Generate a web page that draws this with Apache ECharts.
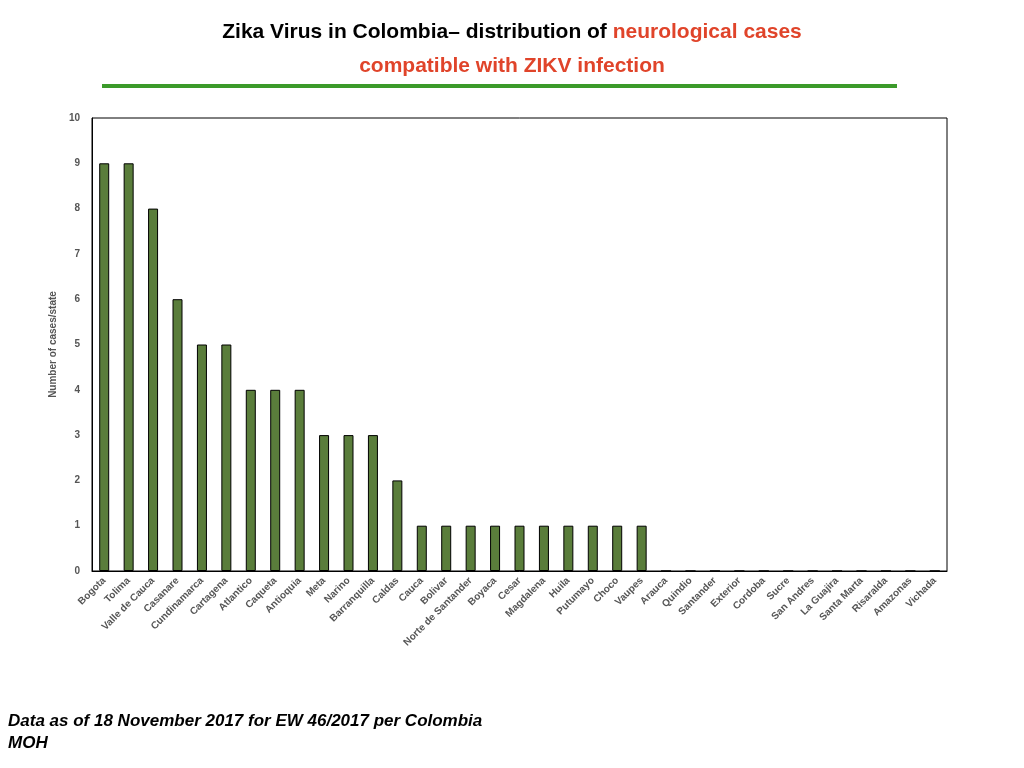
<!DOCTYPE html>
<html>
<head>
<meta charset="utf-8">
<script src="https://cdn.jsdelivr.net/npm/echarts@6/dist/echarts.min.js"></script>
<style>html,body{margin:0;padding:0;background:#fff;}#main{width:1024px;height:768px;}</style>
</head>
<body>
<div id="main"></div>
<script>
var states = ['Bogota', 'Tolima', 'Valle de Cauca', 'Casanare', 'Cundinamarca', 'Cartagena', 'Atlantico',
    'Caqueta', 'Antioquia', 'Meta', 'Narino', 'Barranquilla', 'Caldas', 'Cauca', 'Bolivar',
    'Norte de Santander', 'Boyaca', 'Cesar', 'Magdalena', 'Huila', 'Putumayo', 'Choco', 'Vaupes',
    'Arauca', 'Quindio', 'Santander', 'Exterior', 'Cordoba', 'Sucre', 'San Andres', 'La Guajira',
    'Santa Marta', 'Risaralda', 'Amazonas', 'Vichada'];
var cases = [9, 9, 8, 6, 5, 5, 4, 4, 4, 3, 3, 3, 2, 1, 1, 1, 1, 1, 1, 1, 1, 1, 1,
    0, 0, 0, 0, 0, 0, 0, 0, 0, 0, 0, 0];

var chart = echarts.init(document.getElementById('main'));
chart.setOption({
    animation: false,
    title: {
        text: '{b|Zika Virus in Colombia\u2013 distribution of }{r|neurological cases}\n{r|compatible with ZIKV infection}',
        left: 'center',
        top: 10,
        textStyle: {
            rich: {
                b: { fontFamily: 'Liberation Sans', fontWeight: 'bold', fontSize: 21, color: '#000', lineHeight: 34 },
                r: { fontFamily: 'Liberation Sans', fontWeight: 'bold', fontSize: 21, color: '#e0442a', lineHeight: 34 }
            }
        }
    },
    graphic: [
        { type: 'rect', shape: { x: 102, y: 84, width: 795, height: 4 }, style: { fill: '#3b9a2a' } },
        {
            type: 'text', left: 8, top: 710,
            style: {
                text: 'Data as of 18 November 2017 for EW 46/2017 per Colombia\nMOH',
                font: 'italic bold 17px "Liberation Sans"', fill: '#000', lineHeight: 22
            }
        }
    ],
    grid: {
        left: 92, right: 77, top: 118, bottom: 197,
        show: true, borderColor: '#000', borderWidth: 1
    },
    xAxis: {
        type: 'category',
        data: states,
        axisLine: { lineStyle: { color: '#000' } },
        axisTick: { show: false },
        axisLabel: {
            interval: 0, rotate: 45, fontSize: 10, fontWeight: 'bold',
            fontFamily: 'Liberation Sans', color: '#555', margin: 8
        }
    },
    yAxis: {
        type: 'value', min: 0, max: 10, interval: 1,
        name: 'Number of cases/state',
        nameLocation: 'middle', nameGap: 28, nameRotate: 90,
        nameTextStyle: { fontSize: 10, fontWeight: 'bold', color: '#555', fontFamily: 'Liberation Sans' },
        axisLine: { show: true, lineStyle: { color: '#000' } },
        axisTick: { show: false },
        splitLine: { show: false },
        axisLabel: { fontSize: 10, fontWeight: 'bold', color: '#555', fontFamily: 'Liberation Sans', margin: 12 }
    },
    series: [{
        type: 'bar',
        data: cases,
        barWidth: 10,
        itemStyle: { color: '#5a7d3b', borderColor: '#000', borderWidth: 1 }
    }]
});
</script>
</body>
</html>
